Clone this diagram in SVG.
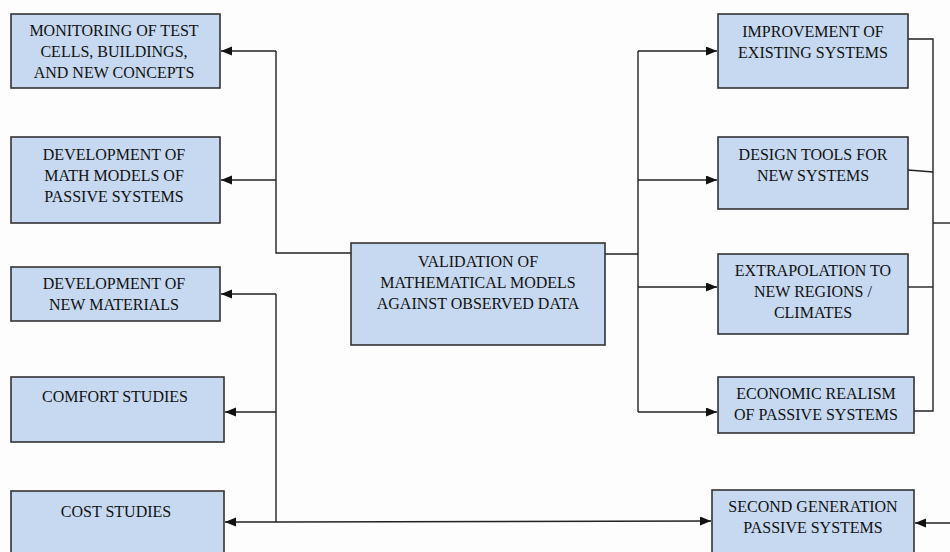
<svg xmlns="http://www.w3.org/2000/svg" width="950" height="552" viewBox="0 0 950 552">
<style>
.box{fill:#c6d9f0;stroke:#333;stroke-width:1.6}
.t{font-size:16px;fill:#111;text-anchor:middle}
.c{fill:none;stroke:#222;stroke-width:1.4}
.a{marker-end:url(#ah)}
</style>
<defs>
<marker id="ah" markerUnits="userSpaceOnUse" markerWidth="12" markerHeight="10" refX="11" refY="4.5" orient="auto">
<path d="M0,0 L11,4.5 L0,9 z" fill="#111"/>
</marker>
</defs>
<rect width="950" height="552" fill="#fdfdfd"/>
<g id="connectors">
<path class="c" d="M276,51 V253 H351"/>
<path class="c a" d="M276,51 H221"/>
<path class="c a" d="M276,180 H221"/>
<path class="c" d="M276,294 V522"/>
<path class="c a" d="M276,294 H221"/>
<path class="c a" d="M276,412 H225"/>
<path class="c a" d="M276,522 H225"/>
<path class="c a" d="M276,522 L711,521"/>
<path class="c" d="M605,254 H638"/>
<path class="c" d="M638,51 V412"/>
<path class="c a" d="M638,51 H717"/>
<path class="c a" d="M638,180 H717"/>
<path class="c a" d="M638,287 H717"/>
<path class="c a" d="M638,412 H717"/>
<path class="c" d="M908,39 H933 V411 H914"/>
<path class="c" d="M908,170 L933,172"/>
<path class="c" d="M908,287 H933"/>
<path class="c" d="M933,223 H950"/>
<path class="c a" d="M950,523 H915"/>
</g>
<g font-family="'Liberation Serif', 'DejaVu Serif', serif">
<g id="n-monitoring">
<rect class="box" x="11" y="14" width="209" height="74"/>
<text class="t" x="114" y="36">MONITORING OF TEST</text>
<text class="t" x="114" y="57">CELLS, BUILDINGS,</text>
<text class="t" x="114" y="78">AND NEW CONCEPTS</text>
</g>
<g id="n-mathmodels">
<rect class="box" x="11" y="137" width="209" height="86"/>
<text class="t" x="114" y="160">DEVELOPMENT OF</text>
<text class="t" x="114" y="181">MATH MODELS OF</text>
<text class="t" x="114" y="202">PASSIVE SYSTEMS</text>
</g>
<g id="n-materials">
<rect class="box" x="11" y="267" width="209" height="54"/>
<text class="t" x="114" y="289">DEVELOPMENT OF</text>
<text class="t" x="114" y="310">NEW MATERIALS</text>
</g>
<g id="n-comfort">
<rect class="box" x="11" y="377" width="213" height="65"/>
<text class="t" x="115" y="402">COMFORT STUDIES</text>
</g>
<g id="n-cost">
<rect class="box" x="11" y="491" width="213" height="70"/>
<text class="t" x="116" y="517">COST STUDIES</text>
</g>
<g id="n-validation">
<rect class="box" x="351" y="243" width="254" height="102"/>
<text class="t" x="478" y="267">VALIDATION OF</text>
<text class="t" x="478" y="288">MATHEMATICAL MODELS</text>
<text class="t" x="478" y="309">AGAINST OBSERVED DATA</text>
</g>
<g id="n-improvement">
<rect class="box" x="718" y="14" width="190" height="74"/>
<text class="t" x="813" y="37">IMPROVEMENT OF</text>
<text class="t" x="813" y="58">EXISTING SYSTEMS</text>
</g>
<g id="n-designtools">
<rect class="box" x="718" y="137" width="190" height="72"/>
<text class="t" x="813" y="160">DESIGN TOOLS FOR</text>
<text class="t" x="813" y="181">NEW SYSTEMS</text>
</g>
<g id="n-extrapolation">
<rect class="box" x="718" y="254" width="190" height="80"/>
<text class="t" x="813" y="276">EXTRAPOLATION TO</text>
<text class="t" x="813" y="297">NEW REGIONS /</text>
<text class="t" x="813" y="318">CLIMATES</text>
</g>
<g id="n-economic">
<rect class="box" x="718" y="377" width="196" height="56"/>
<text class="t" x="816" y="399">ECONOMIC REALISM</text>
<text class="t" x="816" y="420">OF PASSIVE SYSTEMS</text>
</g>
<g id="n-secondgen">
<rect class="box" x="712" y="490" width="202" height="70"/>
<text class="t" x="813" y="512">SECOND GENERATION</text>
<text class="t" x="813" y="533">PASSIVE SYSTEMS</text>
</g>
</g>
</svg>
